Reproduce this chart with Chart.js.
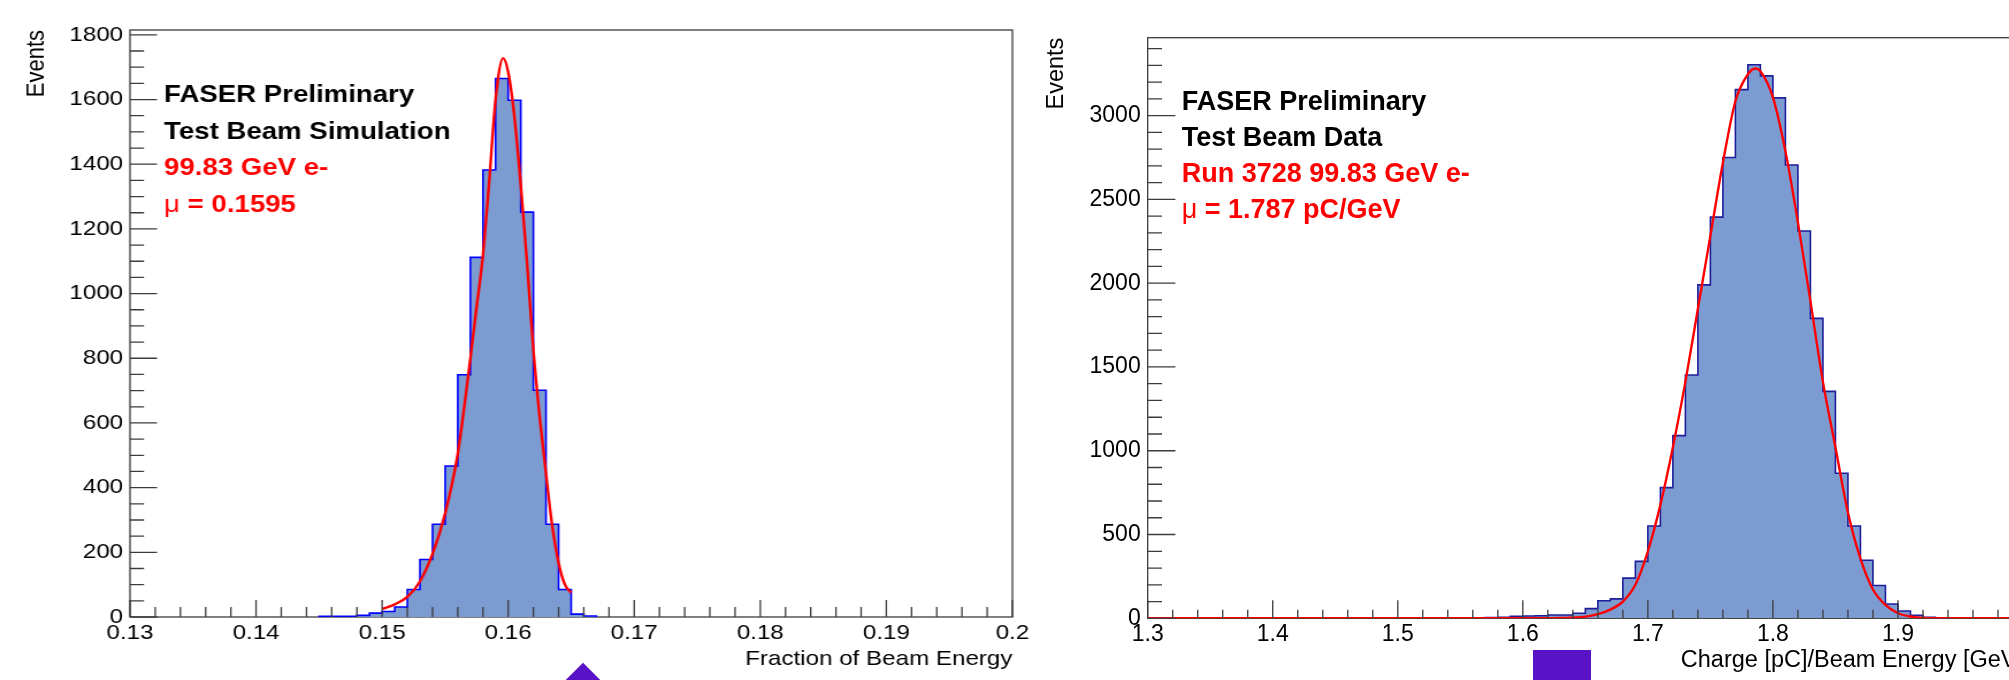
<!DOCTYPE html>
<html>
<head>
<meta charset="utf-8">
<script src="https://cdn.jsdelivr.net/npm/chart.js@4.4.1/dist/chart.umd.min.js"></script>
<style>
html,body{margin:0;padding:0;background:#fff;overflow:hidden;width:2009px;height:680px;}
#wrap{position:relative;width:2009px;height:680px;overflow:hidden;background:#fff;}
canvas{position:absolute;top:0;display:block;}
#cL{left:0;}
#cR{left:1040px;}
.mk{position:absolute;background:#5a12c6;}
</style>
</head>
<body>
<div id="wrap">
  <canvas id="cL" width="904" height="680" style="width:1039.6px;height:680px"></canvas>
  <canvas id="cR" width="1010" height="680" style="width:1010px;height:680px"></canvas>
  <div class="mk" style="left:563px;top:671px;width:40px;height:40px;transform:rotate(45deg)"></div>
  <div class="mk" style="left:1533px;top:650px;width:58px;height:40px"></div>
</div>
<script>
// ---------------- LEFT PANEL : simulation ----------------
const leftBinWidth = 0.001;
const leftBinLow = [0.145,0.146,0.147,0.148,0.149,0.150,0.151,0.152,0.153,0.154,0.155,0.156,0.157,0.158,0.159,0.160,0.161,0.162,0.163,0.164,0.165,0.166];
const leftCounts = [2,2,2,5,12,17,31,85,178,287,467,749,1112,1382,1665,1598,1252,701,287,85,9,3];
const leftFitX = [0.150,0.151,0.152,0.153,0.154,0.155,0.156,0.157,0.1575,0.158,0.1585,0.159,0.1596,0.160,0.1605,0.161,0.1615,0.162,0.1625,0.163,0.1635,0.164,0.1645,0.165];
const leftFitY = [25,39,62,110,195,320,505,800,960,1120,1350,1600,1728,1685,1545,1335,1095,825,618,444,280,168,100,75];
const leftXTicks = [0.13,0.14,0.15,0.16,0.17,0.18,0.19,0.2];
const leftXTickLabels = ['0.13','0.14','0.15','0.16','0.17','0.18','0.19','0.2'];
const leftYTicks = [0,200,400,600,800,1000,1200,1400,1600,1800];
const leftYTickLabels = ['0','200','400','600','800','1000','1200','1400','1600','1800'];
const leftXTitle = 'Fraction of Beam Energy';
const leftYTitle = 'Events';
const leftNotes = ['FASER Preliminary','Test Beam Simulation','99.83 GeV e-','μ = 0.1595'];
const leftNoteColors = ['#000000','#000000','#ff0000','#ff0000'];

// ---------------- RIGHT PANEL : data ----------------
const rightBinWidth = 0.01;
const rightBinLow = [1.57,1.58,1.59,1.60,1.61,1.62,1.63,1.64,1.65,1.66,1.67,1.68,1.69,1.70,1.71,1.72,1.73,1.74,1.75,1.76,1.77,1.78,1.79,1.80,1.81,1.82,1.83,1.84,1.85,1.86,1.87,1.88,1.89,1.90,1.91,1.92,1.93];
const rightCounts = [5,6,12,14,15,20,20,30,58,105,116,240,340,551,780,1090,1452,1990,2394,2750,3155,3304,3237,3106,2705,2311,1790,1354,866,551,346,196,85,44,18,6,2];
const rightFitX = [1.30,1.60,1.63,1.65,1.66,1.67,1.68,1.69,1.70,1.71,1.72,1.73,1.74,1.75,1.76,1.77,1.78,1.786,1.79,1.80,1.81,1.82,1.83,1.84,1.85,1.86,1.87,1.88,1.89,1.90,1.91,1.92,1.94,2.00];
const rightFitY = [0,0,2,10,25,52,100,200,400,677,1021,1411,1847,2283,2719,3086,3247,3281,3265,3109,2788,2363,1893,1411,1021,631,356,172,80,30,11,2,0,0];
const rightXTicks = [1.3,1.4,1.5,1.6,1.7,1.8,1.9,2.0];
const rightXTickLabels = ['1.3','1.4','1.5','1.6','1.7','1.8','1.9','2'];
const rightYTicks = [0,500,1000,1500,2000,2500,3000];
const rightYTickLabels = ['0','500','1000','1500','2000','2500','3000'];
const rightXTitle = 'Charge [pC]/Beam Energy [GeV]';
const rightYTitle = 'Events';
const rightNotes = ['FASER Preliminary','Test Beam Data','Run 3728 99.83 GeV e-','μ = 1.787 pC/GeV'];
const rightNoteColors = ['#000000','#000000','#ff0000','#ff0000'];

// ---------------- helpers ----------------
const FONT = '"Liberation Sans", Arial, Helvetica, sans-serif';
Chart.defaults.font.family = FONT;
Chart.defaults.color = '#000';

function histPoints(low, counts, w) {
  const pts = [{x: low[0], y: 0}];
  low.forEach((x, i) => pts.push({x: x, y: counts[i]}));
  pts.push({x: low[low.length - 1] + w, y: 0});
  return pts;
}
function curvePoints(xs, ys) { return xs.map((x, i) => ({x: x, y: ys[i]})); }
function minorTicks(major, div, max) {
  const out = [];
  const step = (major[1] - major[0]) / div;
  for (let i = 0; i < major.length - 1; i++)
    for (let k = 1; k < div; k++) out.push(major[i] + k * step);
  let v = major[major.length - 1] + step;
  while (v <= max + 1e-9) { out.push(v); v += step; }
  return out;
}

const rootFrame = {
  id: 'rootFrame',
  beforeDatasetsDraw(chart, args, o) {
    const {ctx, chartArea: a} = chart;
    ctx.save();
    ctx.strokeStyle = o.color; ctx.lineWidth = o.lw;
    ctx.strokeRect(a.left, a.top, a.right - a.left, a.bottom - a.top);
    ctx.restore();
  },
  afterDatasetsDraw(chart, args, o) {
    const {ctx, chartArea: a, scales: {x, y}} = chart;
    ctx.save();
    ctx.strokeStyle = o.color; ctx.lineWidth = o.lw;
    ctx.beginPath();
    const xs = o.xMajor.map(v => [v, o.xMajLen]).concat(minorTicks(o.xMajor, o.xDiv, x.max).map(v => [v, o.xMinLen]));
    xs.forEach(([v, len]) => { const p = x.getPixelForValue(v); ctx.moveTo(p, a.bottom); ctx.lineTo(p, a.bottom - len); });
    const ys = o.yMajor.map(v => [v, o.yMajLen]).concat(minorTicks(o.yMajor, o.yDiv, y.max).map(v => [v, o.yMinLen]));
    ys.forEach(([v, len]) => { const p = y.getPixelForValue(v); ctx.moveTo(a.left, p); ctx.lineTo(a.left + len, p); });
    ctx.stroke();
    ctx.restore();
  }
};

const notes = {
  id: 'notes',
  afterDraw(chart, args, o) {
    const ctx = chart.ctx;
    ctx.save();
    ctx.textBaseline = 'alphabetic'; ctx.textAlign = 'left';
    o.lines.forEach((t, i) => {
      const yy = o.y0 + i * o.dy;
      let xx = o.x;
      ctx.fillStyle = o.colors[i];
      if (t.startsWith('μ')) {
        ctx.font = o.size + 'px ' + FONT;
        ctx.fillText('μ', xx, yy);
        xx += ctx.measureText('μ').width;
        t = t.slice(1);
      }
      ctx.font = 'bold ' + o.size + 'px ' + FONT;
      ctx.fillText(t, xx, yy);
    });
    ctx.restore();
  }
};

function makeChart(id, c) {
  return new Chart(document.getElementById(id), {
    type: 'line',
    data: {datasets: [
      {data: curvePoints(c.fitX, c.fitY), borderColor: '#ff0000', borderWidth: c.fitLw, pointRadius: 0,
       cubicInterpolationMode: 'monotone', tension: 0.4, fill: false, order: 0},
      {data: histPoints(c.binLow, c.counts, c.binW), stepped: 'before', fill: 'origin',
       backgroundColor: '#7b9bd1', borderColor: c.histLine, borderWidth: 1.6, pointRadius: 0, order: 1}
    ]},
    options: {
      responsive: false, animation: false, devicePixelRatio: 1, events: [],
      layout: {padding: {left: 0, right: c.padRight, top: c.padTop, bottom: 0}},
      plugins: {
        legend: {display: false}, tooltip: {enabled: false},
        rootFrame: {color: '#3c3c3c', lw: 1.3, xMajor: c.xTicks, xDiv: 5, yMajor: c.yTicks, yDiv: c.yDiv,
                    xMajLen: c.xMajLen, xMinLen: c.xMinLen, yMajLen: c.yMajLen, yMinLen: c.yMinLen},
        notes: {lines: c.notes, colors: c.noteColors, x: c.noteX, y0: c.noteY0, dy: c.noteDy, size: c.noteSize}
      },
      scales: {
        x: {
          type: 'linear', position: 'bottom', min: c.xMin, max: c.xMax,
          grid: {display: false, drawTicks: false, drawOnChartArea: false}, border: {display: false},
          afterBuildTicks: s => { s.ticks = c.xTicks.map(v => ({value: v})); },
          afterFit: s => { s.height = c.xAxisH; },
          ticks: {autoSkip: false, maxRotation: 0, minRotation: 0, padding: c.xTickPad, color: '#000',
                  font: {size: c.tickSize}, callback: (v, i) => c.xTickLabels[i]},
          title: {display: true, text: c.xTitle, align: 'end', color: '#000', font: {size: c.titleSize},
                  padding: {top: 0, bottom: c.xTitlePad}}
        },
        y: {
          type: 'linear', position: 'left', min: 0, max: c.yMax,
          grid: {display: false, drawTicks: false, drawOnChartArea: false}, border: {display: false},
          afterBuildTicks: s => { s.ticks = c.yTicks.map(v => ({value: v})); },
          afterFit: s => { s.width = c.yAxisW; },
          ticks: {autoSkip: false, padding: c.yTickPad, color: '#000',
                  font: {size: c.tickSize}, callback: (v, i) => c.yTickLabels[i]},
          title: {display: true, text: c.yTitle, align: 'end', color: '#000', font: {size: c.yTitleSize},
                  padding: {top: c.yTitlePad, bottom: 0}}
        }
      }
    },
    plugins: [rootFrame, notes]
  });
}

// left canvas is drawn at 904 px and shown 1.15x wider, as in the reference
makeChart('cL', {
  binLow: leftBinLow, counts: leftCounts, binW: leftBinWidth, fitX: leftFitX, fitY: leftFitY,
  histLine: '#0000ff', fitLw: 2.4,
  xMin: 0.13, xMax: 0.2, yMax: 1815,
  xTicks: leftXTicks, xTickLabels: leftXTickLabels, yTicks: leftYTicks, yTickLabels: leftYTickLabels, yDiv: 4,
  xTitle: leftXTitle, yTitle: leftYTitle,
  padRight: 24, padTop: 30, yAxisW: 113, xAxisH: 63,
  tickSize: 21, titleSize: 21, yTitleSize: 22, xTickPad: 4, yTickPad: 6, xTitlePad: 8, yTitlePad: 19,
  xMajLen: 17, xMinLen: 10, yMajLen: 23.5, yMinLen: 12.2,
  notes: leftNotes, noteColors: leftNoteColors, noteX: 142.6, noteY0: 102, noteDy: 36.7, noteSize: 24
});

makeChart('cR', {
  binLow: rightBinLow, counts: rightCounts, binW: rightBinWidth, fitX: rightFitX, fitY: rightFitY,
  histLine: '#1e1e9a', fitLw: 2.4,
  xMin: 1.3, xMax: 2.0, yMax: 3465,
  xTicks: rightXTicks, xTickLabels: rightXTickLabels, yTicks: rightYTicks, yTickLabels: rightYTickLabels, yDiv: 5,
  xTitle: rightXTitle, yTitle: rightYTitle,
  padRight: 27, padTop: 37.7, yAxisW: 107.7, xAxisH: 61.7,
  tickSize: 23, titleSize: 23.5, yTitleSize: 23.5, xTickPad: 2.5, yTickPad: 7, xTitlePad: 5.5, yTitlePad: 2.6,
  xMajLen: 18, xMinLen: 8.5, yMajLen: 27.7, yMinLen: 14.3,
  notes: rightNotes, noteColors: rightNoteColors, noteX: 141.7, noteY0: 110, noteDy: 36, noteSize: 27
});
</script>
</body>
</html>
